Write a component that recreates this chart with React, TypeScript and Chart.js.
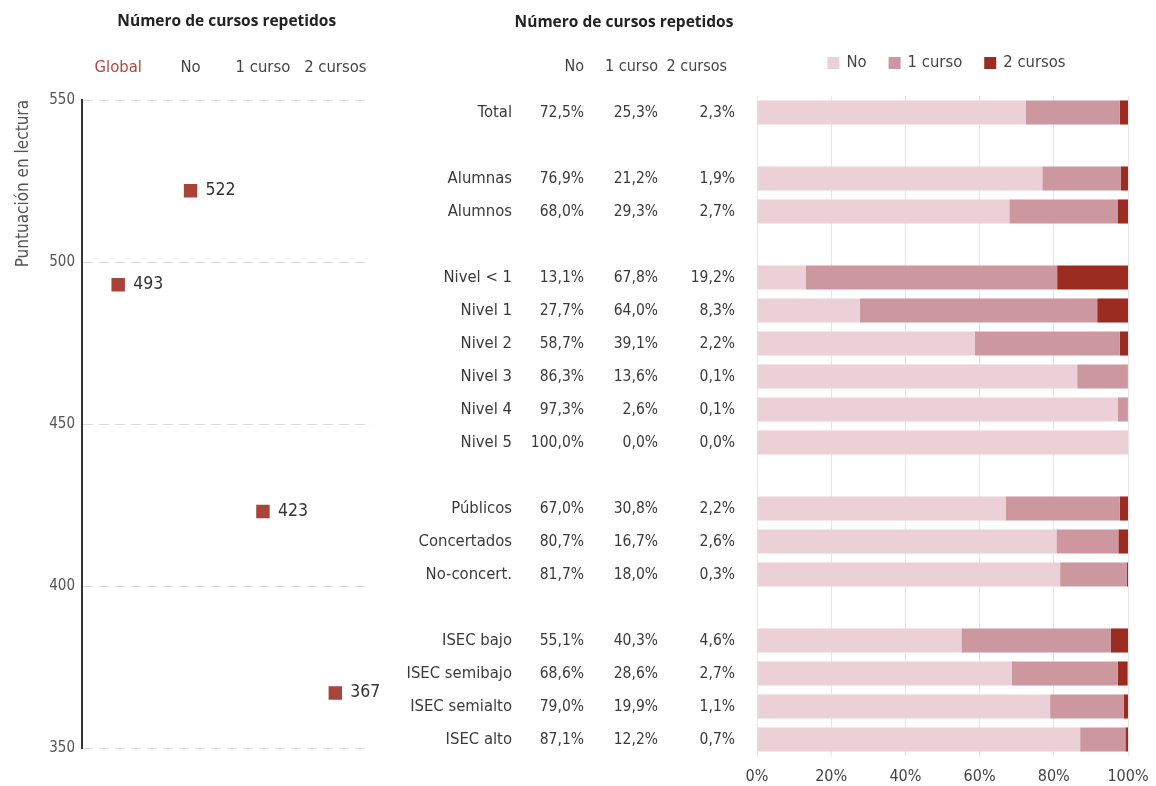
import React, { useEffect, useRef } from 'react';
import { Chart, registerables } from 'chart.js';

Chart.register(...registerables);

const FONT = '"Liberation Sans Narrow", "DejaVu Sans Condensed", "Roboto", "Noto Sans", sans-serif';
const BOLD_FONT = '"Open Sans", "Noto Sans", sans-serif';

// ---- Left panel: reading score by repeated courses ----
const scoreCategories = ['Global', 'No', '1 curso', '2 cursos'];
const scoreValues = [493, 522, 423, 367];
const scoreMin = 350;
const scoreMax = 550;
const scoreStep = 50;

// ---- Right panel: distribution of repeated courses ----
const rowLabels = [
  'Total',
  'Alumnas', 'Alumnos',
  'Nivel < 1', 'Nivel 1', 'Nivel 2', 'Nivel 3', 'Nivel 4', 'Nivel 5',
  'Públicos', 'Concertados', 'No-concert.',
  'ISEC bajo', 'ISEC semibajo', 'ISEC semialto', 'ISEC alto',
];
const groupSizes = [1, 2, 6, 3, 4];
const pctNo = [72.5, 76.9, 68.0, 13.1, 27.7, 58.7, 86.3, 97.3, 100.0, 67.0, 80.7, 81.7, 55.1, 68.6, 79.0, 87.1];
const pctOne = [25.3, 21.2, 29.3, 67.8, 64.0, 39.1, 13.6, 2.6, 0.0, 30.8, 16.7, 18.0, 40.3, 28.6, 19.9, 12.2];
const pctTwo = [2.3, 1.9, 2.7, 19.2, 8.3, 2.2, 0.1, 0.1, 0.0, 2.2, 2.6, 0.3, 4.6, 2.7, 1.1, 0.7];
const seriesNames = ['No', '1 curso', '2 cursos'];
const seriesColors = ['#ecd0d7', '#cc979f', '#9b2c22'];
const pctMax = 100;
const pctStep = 20;

const headingText = 'Número de cursos repetidos';
const yTitle = 'Puntuación en lectura';

function fmtPct(v: number) {
  return v.toFixed(1).replace('.', ',') + '%';
}

// build rows with blank separator rows between groups
function buildRows() {
  const labels: string[] = [];
  const idx: (number | null)[] = [];
  let k = 0;
  groupSizes.forEach((g, gi) => {
    for (let i = 0; i < g; i++) {
      labels.push(rowLabels[k]);
      idx.push(k);
      k++;
    }
    if (gi < groupSizes.length - 1) {
      labels.push('');
      idx.push(null);
    }
  });
  return { labels, idx };
}

function LeftChart() {
  const ref = useRef<HTMLCanvasElement | null>(null);
  useEffect(() => {
    if (!ref.current) return;
    const valueLabels = {
      id: 'valueLabels',
      afterDatasetsDraw(chart: any) {
        const ctx = chart.ctx;
        const meta = chart.getDatasetMeta(0);
        ctx.save();
        ctx.font = '17.5px ' + FONT;
        ctx.fillStyle = '#333';
        ctx.textAlign = 'left';
        ctx.textBaseline = 'middle';
        meta.data.forEach((pt: any, i: number) => {
          ctx.fillText(String(scoreValues[i]), pt.x + 15, pt.y);
        });
        ctx.restore();
      },
    };
    const chart = new Chart(ref.current, {
      type: 'line',
      data: {
        labels: scoreCategories,
        datasets: [
          {
            data: scoreValues,
            showLine: false,
            pointStyle: 'rect',
            pointRadius: 9.5,
            pointBackgroundColor: '#a8443a',
            pointBorderColor: '#a8443a',
            pointBorderWidth: 0,
          },
        ],
      },
      options: {
        responsive: false,
        animation: false,
        layout: { padding: { left: 0, right: 12, top: 0, bottom: 38 } },
        plugins: { legend: { display: false }, tooltip: { enabled: false } },
        scales: {
          x: {
            position: 'top',
            offset: true,
            grid: { display: false, drawTicks: false },
            border: { display: false },
            ticks: {
              padding: 22,
              font: { family: FONT, size: 16.5 },
              color: (c: any) => (c.index === 0 ? '#b0473f' : '#444'),
            },
            title: {
              display: true,
              text: headingText,
              font: { family: BOLD_FONT, size: 15.5, weight: 'bold' },
              color: '#222',
              padding: { top: 12, bottom: 0 },
            },
            afterFit: (s: any) => {
              s.height = 100;
            },
          },
          y: {
            min: scoreMin,
            max: scoreMax,
            ticks: {
              stepSize: scoreStep,
              padding: 7,
              font: { family: FONT, size: 15 },
              color: '#555',
            },
            grid: {
              drawTicks: false,
              color: '#dadada',
              lineWidth: 1,
            },
            border: { display: true, color: '#333', width: 2, dash: [10, 6] },
            title: {
              display: true,
              text: yTitle,
              align: 'end',
              font: { family: FONT, size: 17 },
              color: '#555',
              padding: { top: 13, bottom: 0 },
            },
            afterFit: (s: any) => {
              s.width = 82;
            },
          },
        },
      },
      plugins: [valueLabels],
    } as any);
    return () => chart.destroy();
  }, []);
  return <canvas ref={ref} width={390} height={786} style={{ width: 390, height: 786, display: 'block' }} />;
}

function RightChart() {
  const ref = useRef<HTMLCanvasElement | null>(null);
  useEffect(() => {
    if (!ref.current) return;
    const { labels, idx } = buildRows();
    const pick = (arr: number[]) => idx.map((i) => (i === null ? null : arr[i]));

    const tablePlugin = {
      id: 'tablePlugin',
      afterDraw(chart: any) {
        const ctx = chart.ctx;
        const y = chart.scales.y;
        const area = chart.chartArea;
        ctx.save();
        // heading
        ctx.font = 'bold 15.5px ' + BOLD_FONT;
        ctx.fillStyle = '#222';
        ctx.textAlign = 'center';
        ctx.textBaseline = 'middle';
        ctx.fillText(headingText, 234, 23);
        // column headers
        ctx.font = '16px ' + FONT;
        ctx.fillStyle = '#444';
        ctx.textAlign = 'right';
        const colX = [194, 268, 345];
        const hdrX = [194, 268, 337];
        seriesNames.forEach((n, i) => ctx.fillText(n, hdrX[i], 67));
        // rows
        ctx.fillStyle = '#3a3a3a';
        const series = [pctNo, pctOne, pctTwo];
        idx.forEach((k, r) => {
          if (k === null) return;
          const py = y.getPixelForValue(r);
          ctx.font = '16.5px ' + FONT;
          ctx.fillText(rowLabels[k], 122, py);
          ctx.font = '15.5px ' + FONT;
          series.forEach((s, j) => ctx.fillText(fmtPct(s[k]), colX[j], py));
        });
        // legend
        ctx.font = '16.5px ' + FONT;
        ctx.textAlign = 'left';
        const box = 12;
        const gapBox = 7;
        const gapItem = 22;
        const widths = seriesNames.map((n) => box + gapBox + ctx.measureText(n).width);
        const total = widths.reduce((a, b) => a + b, 0) + gapItem * (seriesNames.length - 1);
        let lx = (area.left + area.right) / 2 + 4 - total / 2;
        const ly = 63;
        seriesNames.forEach((n, i) => {
          ctx.fillStyle = seriesColors[i];
          ctx.fillRect(lx, ly - box / 2, box, box);
          ctx.fillStyle = '#444';
          ctx.fillText(n, lx + box + gapBox, ly);
          lx += widths[i] + gapItem;
        });
        ctx.restore();
      },
    };

    const chart = new Chart(ref.current, {
      type: 'bar',
      data: {
        labels,
        datasets: [
          { label: seriesNames[0], data: pick(pctNo), backgroundColor: seriesColors[0] },
          { label: seriesNames[1], data: pick(pctOne), backgroundColor: seriesColors[1] },
          { label: seriesNames[2], data: pick(pctTwo), backgroundColor: seriesColors[2] },
        ],
      },
      options: {
        indexAxis: 'y',
        responsive: false,
        animation: false,
        layout: { padding: { left: 367, right: 28, top: 96, bottom: 0 } },
        datasets: { bar: { barPercentage: 0.73, categoryPercentage: 1, borderWidth: 0 } },
        plugins: { legend: { display: false }, tooltip: { enabled: false } },
        scales: {
          x: {
            stacked: true,
            min: 0,
            max: pctMax,
            ticks: {
              stepSize: pctStep,
              padding: 11,
              font: { family: FONT, size: 16 },
              color: '#444',
              callback: (v: any) => v + '%',
            },
            grid: { drawTicks: false, color: '#e6e6e6', lineWidth: 1 },
            border: { display: false },
            afterFit: (s: any) => {
              s.height = 30;
              s.paddingRight = 0;
              s.paddingLeft = 0;
            },
          },
          y: {
            stacked: true,
            display: false,
          },
        },
      },
      plugins: [tablePlugin],
    } as any);
    return () => chart.destroy();
  }, []);
  return <canvas ref={ref} width={766} height={786} style={{ width: 766, height: 786, display: 'block' }} />;
}

export default function App() {
  return (
    <div style={{ position: 'fixed', left: 0, top: 0, width: 1156, height: 786, background: '#fff', overflow: 'hidden' }}>
      <div style={{ position: 'absolute', left: 0, top: 0 }}>
        <LeftChart />
      </div>
      <div style={{ position: 'absolute', left: 390, top: 0 }}>
        <RightChart />
      </div>
    </div>
  );
}
